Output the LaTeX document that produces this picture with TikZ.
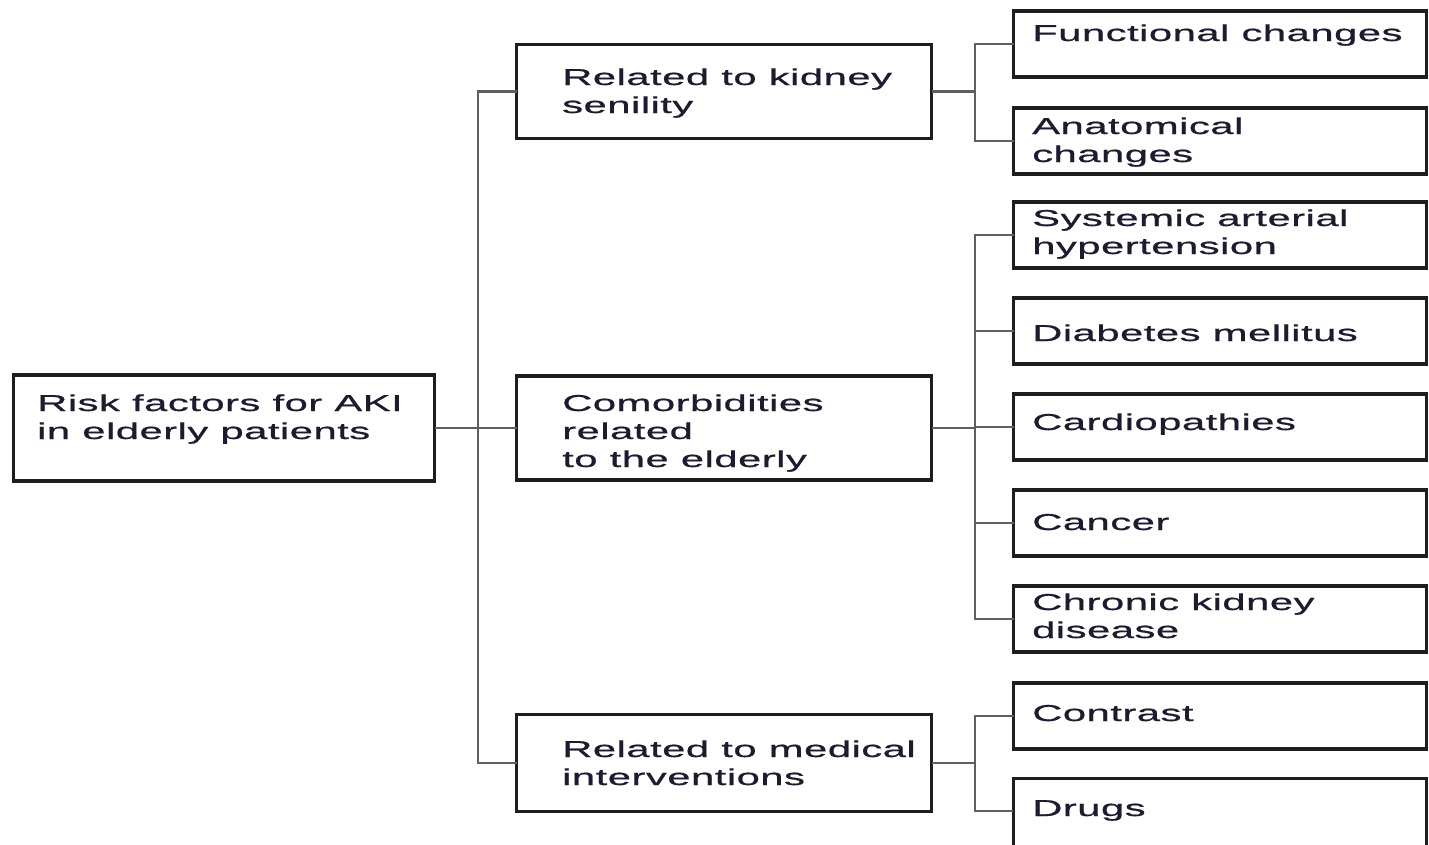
\documentclass[tikz,border=0pt]{standalone}
\usepackage{fontspec}
\setmainfont{Liberation Sans}[FakeStretch=1.82, LetterSpace=2, FakeBold=0.7]
\definecolor{txt}{RGB}{28,28,48}
\definecolor{edge}{RGB}{30,30,30}
\definecolor{conn}{RGB}{95,95,95}
\begin{document}
\begin{tikzpicture}[x=1pt,y=-1pt,
  box/.style={draw=edge, line width=3.2pt, fill=white, rectangle, inner sep=0pt, outer sep=0pt},
  rootbox/.style={box, minimum width=421pt, minimum height=106pt},
  midbox/.style={box, minimum width=415pt},
  leafbox/.style={box, minimum width=413pt, minimum height=66pt},
  lbl/.style={anchor=base west, inner sep=0pt, align=left, text=txt,
    font=\fontsize{23}{28}\selectfont},
  link/.style={draw=conn, line width=2.4pt}
]
\useasboundingbox (0,0) rectangle (1429,844);
\fill[white] (0,0) rectangle (1429,844);

% connector bus positions
\coordinate (busA) at (478,0);
\coordinate (busB) at (975,0);

% boxes
\node[rootbox] (root) at (224,428) {};
\node[midbox, minimum height=94pt] (mid1) at (724,91.5) {};
\node[midbox, minimum height=104pt] (mid2) at (724,428) {};
\node[midbox, minimum height=97pt] (mid3) at (724,763) {};

\node[leafbox] (l1) at (1220,44) {};
\node[leafbox] (l2) at (1220,141) {};
\node[leafbox] (l3) at (1220,235) {};
\node[leafbox] (l4) at (1220,331) {};
\node[leafbox] (l5) at (1220,427) {};
\node[leafbox] (l6) at (1220,523) {};
\node[leafbox] (l7) at (1220,619) {};
\node[leafbox] (l8) at (1220,716) {};
\node[leafbox, minimum height=74pt] (l9) at (1220,815.6) {};

% connectors
\draw[link] (root.east) -- (mid2.west);
\draw[link] (mid1.west) -- (mid1.west -| busA) -- (mid3.west -| busA) -- (mid3.west);

\draw[link] (mid1.east) -- (mid1.east -| busB);
\draw[link] (l1.west) -- (l1.west -| busB) -- (l2.west -| busB) -- (l2.west);

\draw[link] (mid2.east) -- (mid2.east -| busB);
\draw[link] (l3.west) -- (l3.west -| busB) -- (l7.west -| busB) -- (l7.west);
\draw[link] (l4.west -| busB) -- (l4.west);
\draw[link] (l5.west -| busB) -- (l5.west);
\draw[link] (l6.west -| busB) -- (l6.west);

\draw[link] (mid3.east) -- (mid3.east -| busB);
\coordinate (drugin) at (1013,811);
\draw[link] (l8.west) -- (l8.west -| busB) -- (drugin -| busB) -- (drugin);

% labels (base anchor = baseline of the last line)
\node[lbl] (troot) at (37,439) {Risk factors for AKI\\in elderly patients};
\node[lbl] (tmid1) at (562,113) {Related to kidney\\senility};
\node[lbl] (tmid2) at (562,467) {Comorbidities\\related\\to the elderly};
\node[lbl] (tmid3) at (562,785) {Related to medical\\interventions};

\node[lbl] (tl1) at (1032,41) {Functional changes};
\node[lbl] (tl2) at (1032,162) {Anatomical\\changes};
\node[lbl] (tl3) at (1032,254) {Systemic arterial\\hypertension};
\node[lbl] (tl4) at (1032,341) {Diabetes mellitus};
\node[lbl] (tl5) at (1032,430) {Cardiopathies};
\node[lbl] (tl6) at (1032,530) {Cancer};
\node[lbl] (tl7) at (1032,638) {Chronic kidney\\disease};
\node[lbl] (tl8) at (1032,721) {Contrast};
\node[lbl] (tl9) at (1032,816) {Drugs};
\end{tikzpicture}
\end{document}
